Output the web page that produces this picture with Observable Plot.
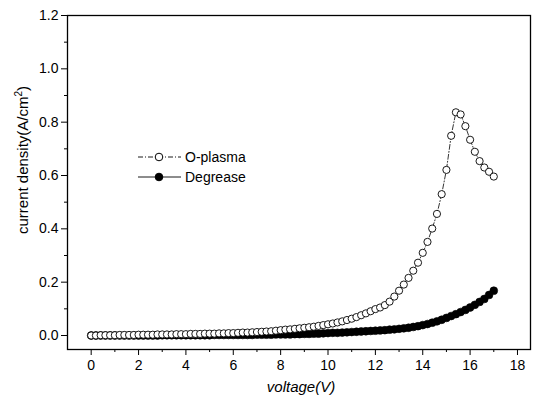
<!DOCTYPE html>
<html>
<head>
<meta charset="utf-8">
<script src="https://cdn.jsdelivr.net/npm/d3@7"></script>
<script src="https://cdn.jsdelivr.net/npm/@observablehq/plot@0.6"></script>
<style>
body { margin: 0; background: #fff; }
#chart svg { font-family: "Liberation Sans", Arial, sans-serif; }
</style>
</head>
<body>
<div id="chart"></div>
<script>
const voltage = [
  0.0,0.2,0.4,0.6,0.8,1.0,1.2,1.4,1.6,1.8,2.0,
  2.2,2.4,2.6,2.8,3.0,3.2,3.4,3.6,3.8,4.0,
  4.2,4.4,4.6,4.8,5.0,5.2,5.4,5.6,5.8,6.0,
  6.2,6.4,6.6,6.8,7.0,7.2,7.4,7.6,7.8,8.0,
  8.2,8.4,8.6,8.8,9.0,9.2,9.4,9.6,9.8,10.0,
  10.2,10.4,10.6,10.8,11.0,11.2,11.4,11.6,11.8,12.0,
  12.2,12.4,12.6,12.8,13.0,13.2,13.4,13.6,13.8,14.0,
  14.2,14.4,14.6,14.8,15.0,15.2,15.4,15.6,15.8,16.0,
  16.2,16.4,16.6,16.8,17.0
];
const oPlasma = [
  0.000,0.000,0.001,0.001,0.001,0.001,0.002,0.002,0.002,0.002,0.003,
  0.003,0.003,0.003,0.004,0.004,0.004,0.004,0.005,0.005,0.005,
  0.006,0.006,0.006,0.007,0.007,0.007,0.008,0.008,0.009,0.009,
  0.010,0.011,0.011,0.012,0.013,0.014,0.015,0.016,0.018,0.020,
  0.022,0.023,0.025,0.027,0.029,0.031,0.033,0.036,0.039,0.042,
  0.045,0.049,0.053,0.058,0.063,0.069,0.076,0.083,0.091,0.099,
  0.105,0.114,0.127,0.146,0.168,0.191,0.216,0.243,0.273,0.310,
  0.351,0.401,0.456,0.530,0.621,0.749,0.837,0.829,0.785,0.734,
  0.689,0.654,0.630,0.614,0.596
];
const degrease = [
  0.000,0.000,0.000,0.000,0.000,0.000,0.000,0.000,0.000,0.000,0.000,
  0.000,0.000,0.000,0.000,0.001,0.001,0.001,0.001,0.001,0.001,
  0.001,0.001,0.001,0.001,0.001,0.002,0.002,0.002,0.002,0.002,
  0.002,0.002,0.002,0.002,0.003,0.003,0.003,0.003,0.004,0.004,
  0.004,0.004,0.005,0.005,0.006,0.006,0.007,0.007,0.008,0.009,
  0.010,0.010,0.011,0.012,0.013,0.014,0.015,0.016,0.017,0.018,
  0.019,0.020,0.022,0.023,0.025,0.027,0.029,0.032,0.035,0.039,
  0.043,0.048,0.053,0.059,0.066,0.073,0.080,0.088,0.096,0.105,
  0.115,0.126,0.137,0.152,0.168
];
const seriesNames = ["O-plasma", "Degrease"];
const xTicks = [0,2,4,6,8,10,12,14,16,18];
const xMinor = [1,3,5,7,9,11,13,15,17];
const yTicks = [0.0,0.2,0.4,0.6,0.8,1.0,1.2];
const yMinor = [0.1,0.3,0.5,0.7,0.9,1.1];
const xLabel = "voltage(V)";
const yLabel = "current density(A/cm";

const dataO = voltage.map((v, i) => ({v, j: oPlasma[i]}));
const dataD = voltage.map((v, i) => ({v, j: degrease[i]}));

const chart = Plot.plot({
  width: 541,
  height: 404,
  marginLeft: 67,
  marginRight: 11,
  marginTop: 15,
  marginBottom: 55,
  style: {fontFamily: "Liberation Sans, Arial, sans-serif", background: "#fff"},
  x: {domain: [-1, 18.55]},
  y: {domain: [-0.0525, 1.2]},
  marks: [
    Plot.frame({stroke: "black", strokeWidth: 1.3}),
    Plot.axisX(xTicks, {tickSize: 6, tickPadding: 5, fontSize: 14, label: null, stroke: "black", color: "black"}),
    Plot.axisX(xMinor, {tickSize: 3, tickFormat: () => "", label: null}),
    Plot.axisY(yTicks, {tickSize: 6, tickPadding: 3, fontSize: 14, tickFormat: d3.format(".1f"), label: null}),
    Plot.axisY(yMinor, {tickSize: 3, tickFormat: () => "", label: null}),
    Plot.line(dataO, {x: "v", y: "j", stroke: "black", strokeWidth: 0.8, strokeDasharray: "5,2,1,2"}),
    Plot.line(dataD, {x: "v", y: "j", stroke: "black", strokeWidth: 1}),
    Plot.dot(dataD, {x: "v", y: "j", r: 3.9, fill: "black", stroke: "black", strokeWidth: 0.6}),
    Plot.dot(dataO, {x: "v", y: "j", r: 3.6, fill: "white", stroke: "black", strokeWidth: 0.9})
  ]
});

const svg = d3.select(chart);
// axis titles
svg.append("text")
  .attr("x", 301).attr("y", 392)
  .attr("text-anchor", "middle")
  .attr("font-size", 15).attr("font-style", "italic")
  .attr("fill", "black")
  .text(xLabel);
const yt = svg.append("text")
  .attr("transform", "translate(28,160) rotate(-90)")
  .attr("text-anchor", "middle")
  .attr("font-size", 15)
  .attr("fill", "black");
yt.append("tspan").text(yLabel);
yt.append("tspan").attr("font-size", 10).attr("dy", -6).text("2");
yt.append("tspan").attr("dy", 6).text(")");

// legend
const leg = svg.append("g");
const rows = [
  {name: seriesNames[0], y: 157, fill: "white", dash: "5,2,1,2"},
  {name: seriesNames[1], y: 177, fill: "black", dash: null}
];
rows.forEach(r => {
  leg.append("line").attr("x1", 138).attr("x2", 181).attr("y1", r.y).attr("y2", r.y)
    .attr("stroke", "black").attr("stroke-width", 0.9).attr("stroke-dasharray", r.dash);
  leg.append("circle").attr("cx", 159).attr("cy", r.y).attr("r", 3.8)
    .attr("fill", r.fill).attr("stroke", "black").attr("stroke-width", 1);
  leg.append("text").attr("x", 185).attr("y", r.y).attr("dy", "0.35em")
    .attr("text-anchor", "start")
    .attr("font-size", 14).attr("fill", "black").text(r.name);
});

document.getElementById("chart").appendChild(chart);
</script>
</body>
</html>
